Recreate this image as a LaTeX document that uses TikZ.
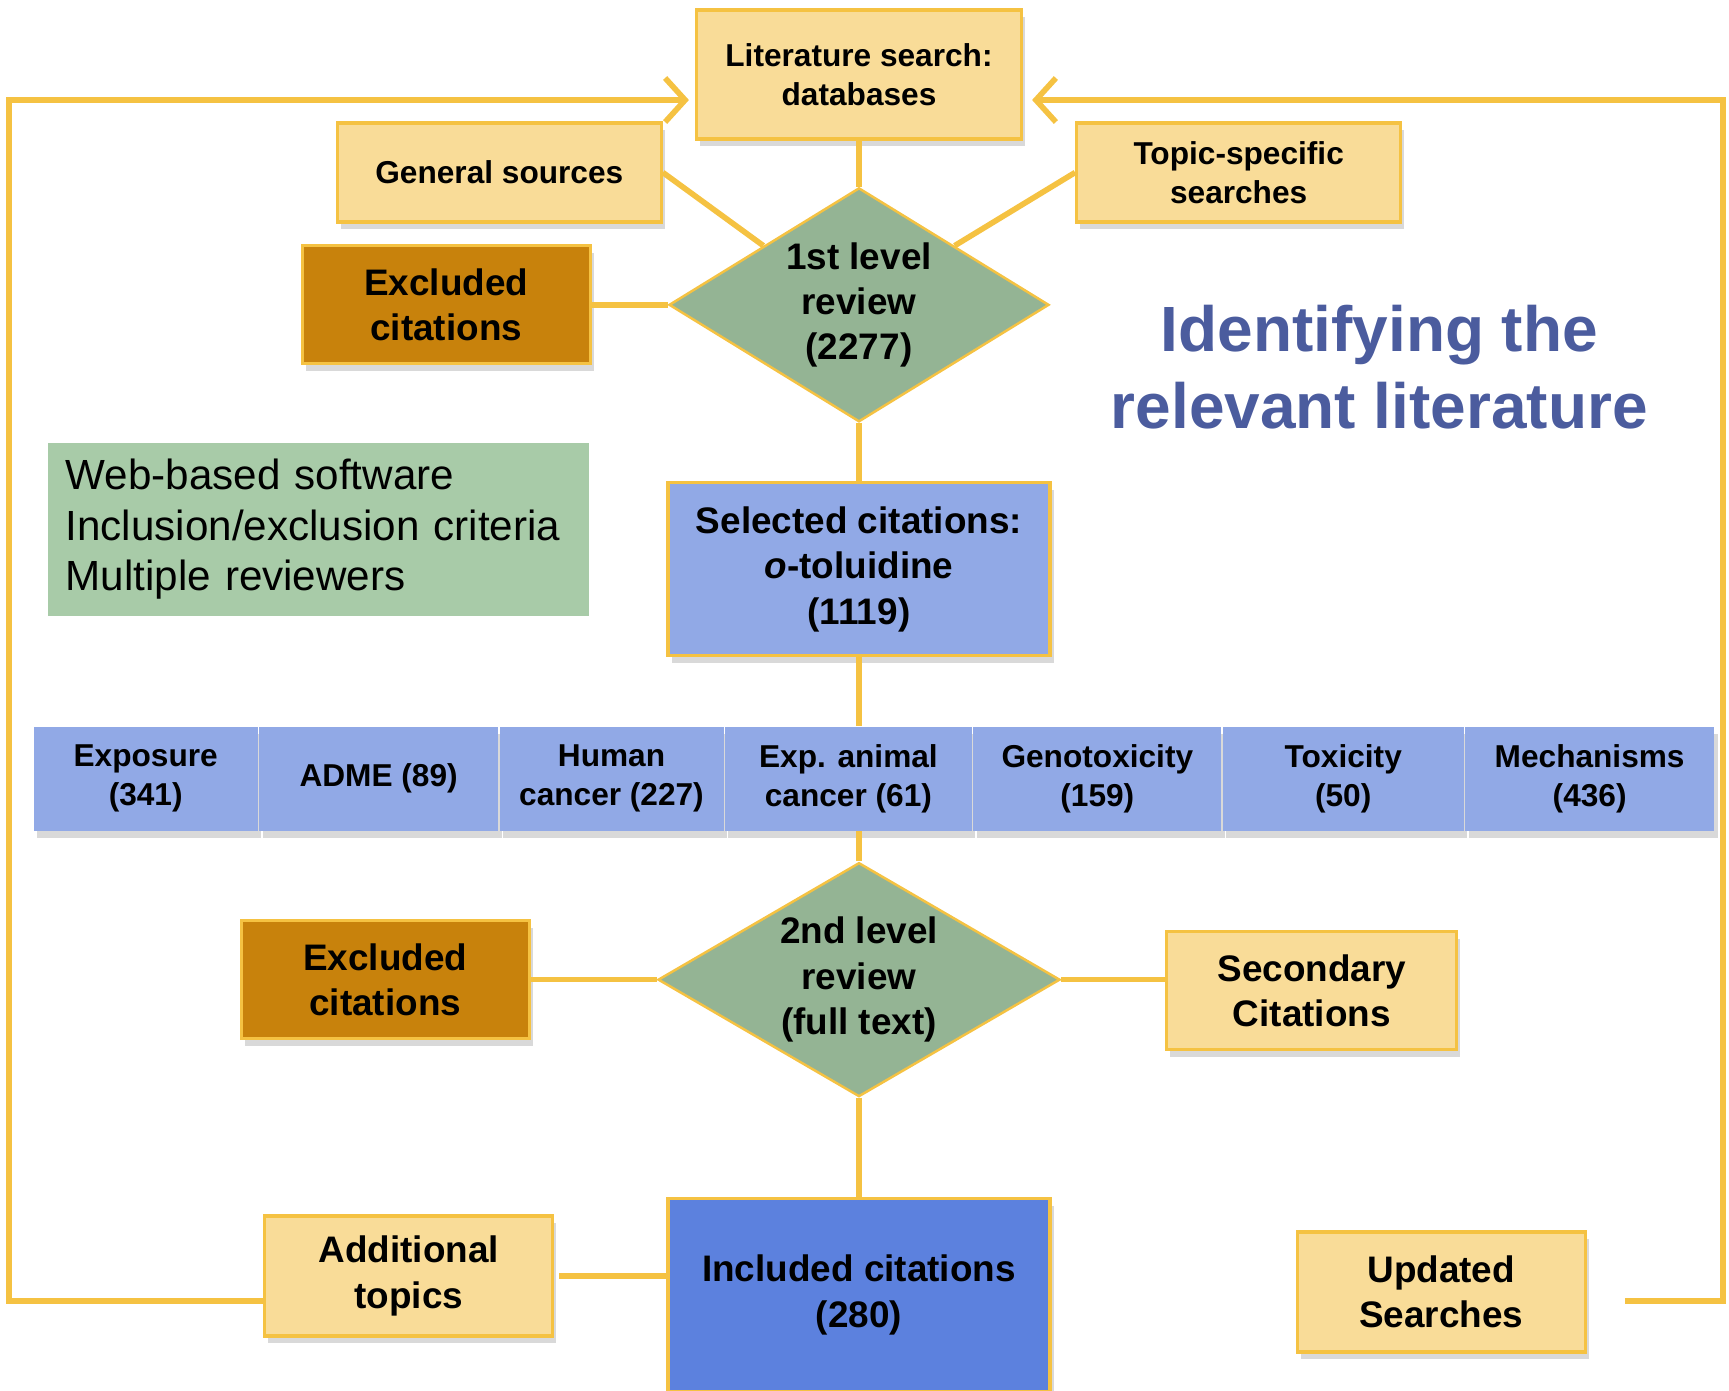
\documentclass[tikz,border=0pt]{standalone}
\usepackage{fontspec}
\setmainfont{Liberation Sans}
\usepackage{xcolor}
\usetikzlibrary{arrows.meta, positioning, shapes.geometric, shadows}

\definecolor{linegold}{HTML}{F5C242}
\definecolor{paleyellow}{HTML}{F9DC98}
\definecolor{excorange}{HTML}{C8820C}
\definecolor{sagegreen}{HTML}{94B494}
\definecolor{infogreen}{HTML}{A8CBA8}
\definecolor{periwinkle}{HTML}{91A9E6}
\definecolor{inclblue}{HTML}{5C81DE}
\definecolor{titleblue}{HTML}{4B5C9E}

\newcommand{\smalltxt}{\fontsize{9}{11}\selectfont\bfseries}
\newcommand{\bigtxt}{\fontsize{10.5}{12.9}\selectfont\bfseries}
\newcommand{\infotxt}{\fontsize{12}{14.4}\selectfont}
\newcommand{\titletxt}{\fontsize{18.2}{22}\selectfont\bfseries}

\begin{document}
\begin{tikzpicture}[>={Straight Barb[length=2mm, width=4.4mm]},
    link/.style={draw=linegold, line width=1.6pt},
    shade/.style={drop shadow={shadow xshift=1pt, shadow yshift=-2pt, opacity=0.3}},
    srcbox/.style={draw=linegold, line width=0.9pt, fill=paleyellow, shade, align=center, inner sep=2pt},
    exclbox/.style={srcbox, fill=excorange, minimum width=2.88cm, minimum height=1.18cm, font=\bigtxt},
    review/.style={diamond, aspect=1.7, draw=linegold, line width=0.7pt, fill=sagegreen, align=center, inner sep=0pt, minimum height=2.34cm, font=\bigtxt},
    topicbox/.style={fill=periwinkle, shade, align=center, minimum height=1.04cm, inner sep=0pt, font=\smalltxt}]
    \useasboundingbox (0,0) rectangle (17.29,-13.90);
    % search and first review
    \node[srcbox, minimum width=3.25cm, minimum height=1.29cm, font=\smalltxt] (lit) at (8.59,-0.745) {Literature search:\\databases};
    \node[srcbox, minimum width=3.24cm, minimum height=0.99cm, font=\smalltxt, left=3.2mm of lit, yshift=-9.8mm] (gen) {General sources};
    \node[srcbox, minimum width=3.24cm, minimum height=0.99cm, font=\smalltxt, right=5.2mm of lit, yshift=-9.8mm] (topic) {Topic-specific\\searches};
    \node[review, minimum width=3.8cm, below=4.6mm of lit] (rev1) {1st level\\review\\(2277)};
    \node[exclbox, left=7.6mm of rev1] (exc1) {Excluded\\citations};
    \node[right=6mm of rev1, yshift=-6.2mm, inner sep=0pt, align=center, text=titleblue, font=\titletxt] (title) {Identifying the\\relevant literature};
    \node[srcbox, fill=periwinkle, minimum width=3.82cm, minimum height=1.73cm, font=\bigtxt, below=5.8mm of rev1] (sel) {Selected citations:\\\textit{o}-toluidine\\(1119)};
    \node[fill=infogreen, text width=5.05cm, inner xsep=0.18cm, align=left, minimum height=1.73cm, font=\infotxt, left=7.7mm of sel, yshift=4mm] (info) {Web-based software\\Inclusion/exclusion criteria\\Multiple reviewers};
    % topic categories
    \node[topicbox, minimum width=2.24cm, anchor=north west] (expo) at (0.33,-7.26) {Exposure\\(341)};
    \node[topicbox, minimum width=2.39cm, right=0pt of expo] (adme) {ADME (89)};
    \node[topicbox, minimum width=2.24cm, right=0pt of adme] (hum) {Human\\cancer (227)};
    \node[topicbox, minimum width=2.47cm, right=0pt of hum] (anim) {Exp. animal\\cancer (61)};
    \node[topicbox, minimum width=2.48cm, right=0pt of anim] (geno) {Genotoxicity\\(159)};
    \node[topicbox, minimum width=2.41cm, right=0pt of geno] (tox) {Toxicity\\(50)};
    \node[topicbox, minimum width=2.49cm, right=0pt of tox] (mech) {Mechanisms\\(436)};
    \coordinate (rowtop) at (sel.south |- anim.north);
    \coordinate (rowbot) at (sel.south |- anim.south);
    % second review and outcome
    \node[review, minimum width=4.02cm, below=3mm of rowbot] (rev2) {2nd level\\review\\(full text)};
    \node[exclbox, left=12.6mm of rev2] (exc2) {Excluded\\citations};
    \node[srcbox, minimum width=2.9cm, minimum height=1.18cm, font=\bigtxt, right=10.4mm of rev2, yshift=-1.1mm] (sec) {Secondary\\Citations};
    \node[srcbox, fill=inclblue, minimum width=3.82cm, minimum height=1.93cm, font=\bigtxt, below=9.9mm of rev2] (inc) {Included citations\\(280)};
    \node[srcbox, minimum width=2.88cm, minimum height=1.2cm, font=\bigtxt, left=11.2mm of inc, yshift=1.9mm] (add) {Additional\\topics};
    \node[srcbox, minimum width=2.88cm, minimum height=1.2cm, font=\bigtxt, right=24.4mm of inc, yshift=0.3mm] (upd) {Updated\\Searches};
    % feedback loops
    \coordinate (lbot) at (0.09,-13.01);
    \coordinate (ltop) at (0.09,-1.00);
    \coordinate (rbot) at (17.23,-13.01);
    \coordinate (rtop) at (17.23,-1.00);
    \draw[link] (lit) -- (rev1);
    \draw[link] (gen.east) -- (rev1.north west);
    \draw[link] (topic.west) -- (rev1.north east);
    \draw[link] (exc1) -- (rev1);
    \draw[link] (rev1) -- (sel);
    \draw[link] (sel) -- (rowtop);
    \draw[link] (rowbot) -- (rev2);
    \draw[link] (exc2) -- (rev2);
    \draw[link] (rev2.east) -- (rev2.east -| sec.west);
    \draw[link] (rev2) -- (inc);
    \draw[link, shorten <=0.5mm] (add.east) -- (add.east -| inc.west);
    \draw[link, ->, shorten >=0.6mm] (add.west |- lbot) -- (lbot) -- (ltop) -- (ltop -| lit.west);
    \draw[link, ->, shorten <=3.8mm, shorten >=0.9mm] (upd.east |- rbot) -- (rbot) -- (rtop) -- (rtop -| lit.east);
\end{tikzpicture}
\end{document}
